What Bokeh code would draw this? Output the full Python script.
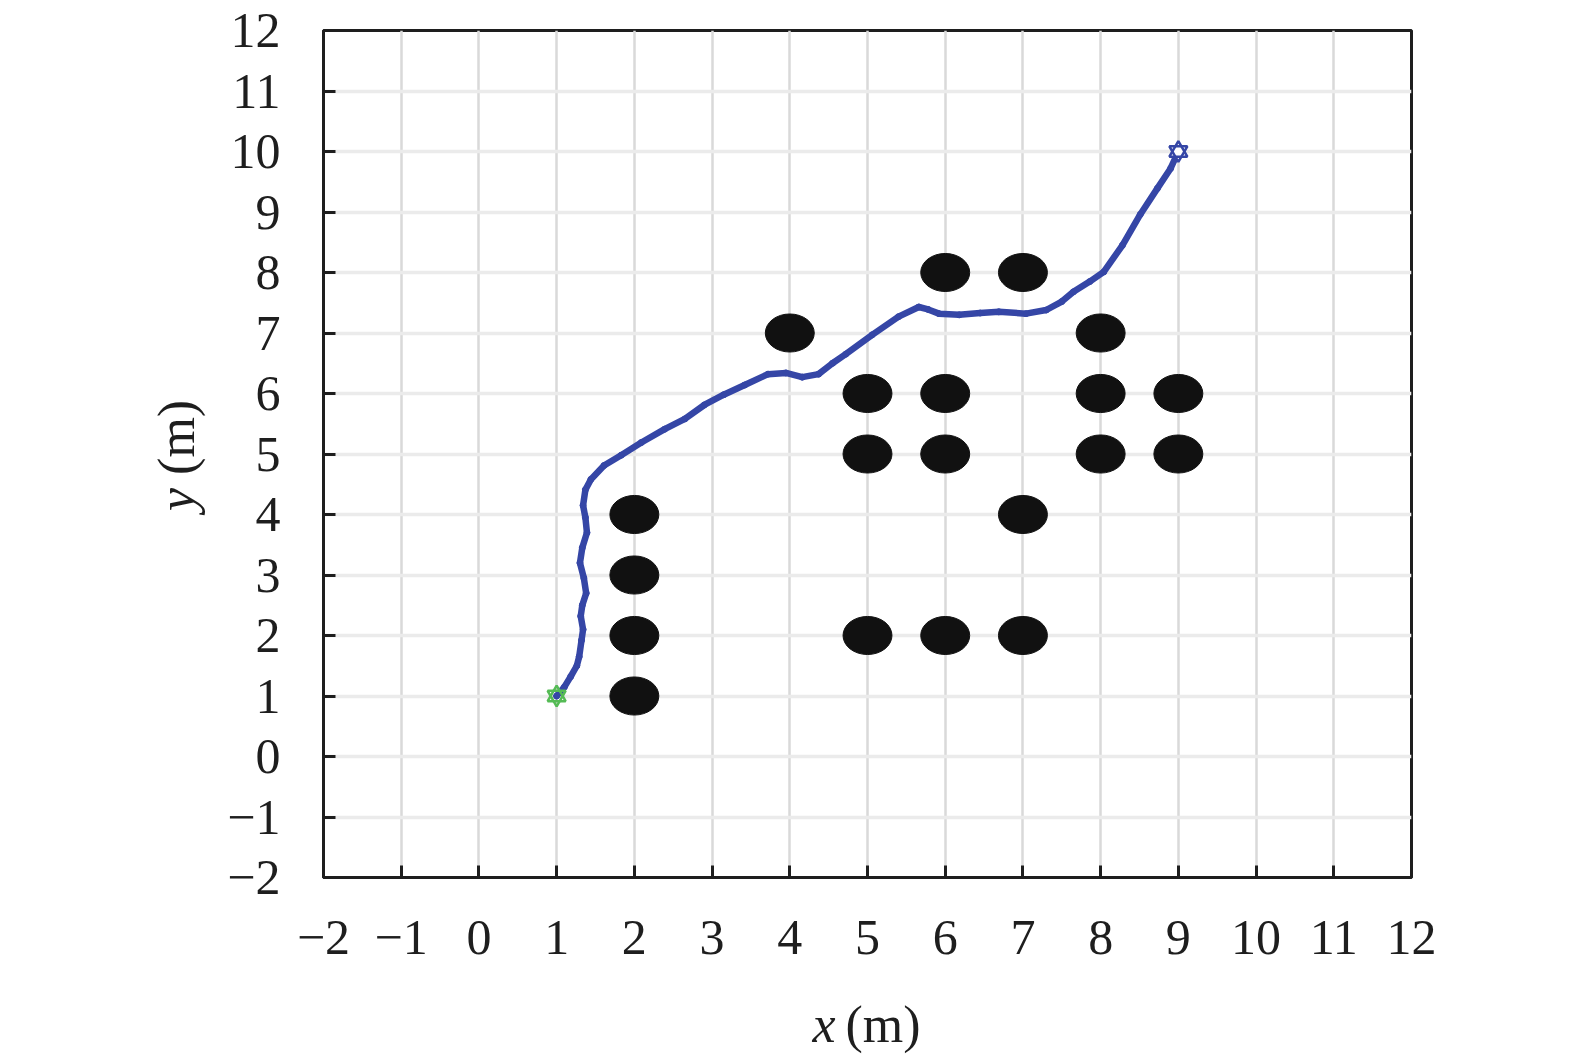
from bokeh.plotting import figure
from bokeh.models import FixedTicker, Range1d
from bokeh.layouts import row, column
from bokeh.core.properties import value
from bokeh.embed import file_html
from bokeh.resources import INLINE

# Obstacles (centres, m)
obs_x = [2, 2, 2, 2, 4, 5, 5, 5, 6, 6, 6, 6, 7, 7, 7, 8, 8, 8, 9, 9]
obs_y = [1, 2, 3, 4, 7, 2, 5, 6, 2, 5, 6, 8, 2, 4, 8, 5, 6, 7, 5, 6]
obs_d = 0.63

# Planned path (m)
path_x = [1.00, 1.10, 1.18, 1.26, 1.29, 1.32, 1.34, 1.31, 1.33, 1.38, 1.35, 1.30,
          1.33, 1.39, 1.37, 1.34, 1.37, 1.44, 1.61, 1.83, 2.09, 2.39, 2.65, 2.90,
          3.15, 3.42, 3.72, 3.95, 4.16, 4.37, 4.55, 4.72, 5.06, 5.40, 5.66, 5.78,
          5.92, 6.18, 6.45, 6.69, 7.04, 7.30, 7.50, 7.65, 7.86, 8.04, 8.28, 8.51,
          8.73, 8.90, 9.00]
path_y = [1.00, 1.15, 1.32, 1.50, 1.65, 1.92, 2.10, 2.32, 2.50, 2.70, 2.95, 3.20,
          3.45, 3.70, 3.95, 4.15, 4.41, 4.58, 4.81, 4.98, 5.19, 5.41, 5.58, 5.81,
          5.98, 6.14, 6.32, 6.34, 6.27, 6.32, 6.50, 6.65, 6.97, 7.27, 7.43, 7.39,
          7.32, 7.30, 7.33, 7.35, 7.32, 7.38, 7.52, 7.68, 7.85, 8.01, 8.45, 8.96,
          9.39, 9.72, 10.00]

start_x, start_y = [1.0], [1.0]
goal_x, goal_y = [9.0], [10.0]

ticks = list(range(-2, 13))
tick_labels = {t: (("\u2212" + str(-t)) if t < 0 else str(t)) for t in ticks}

x_title = ["x", "(m)"]
y_title = ["y", "(m)"]

FONT = "Liberation Serif"
INK = "#1e1e1e"
PATH_C = "#3546a6"
START_C = "#55bb55"

# ---- main plot ----
p = figure(width=1251, height=972, output_backend="svg", toolbar_location=None,
           x_range=Range1d(-2, 12), y_range=Range1d(-2, 12),
           min_border_left=103, min_border_right=60,
           min_border_top=30, min_border_bottom=95)
p.background_fill_color = "white"
p.border_fill_color = "white"
p.outline_line_color = INK
p.outline_line_width = 3

for ax in (p.xaxis[0], p.yaxis[0]):
    ax.ticker = FixedTicker(ticks=ticks)
    ax.major_label_overrides = tick_labels
    ax.axis_line_color = INK
    ax.axis_line_width = 3
    ax.major_tick_in = 12
    ax.major_tick_out = 0
    ax.major_tick_line_color = INK
    ax.major_tick_line_width = 3
    ax.minor_tick_line_color = None
    ax.major_label_text_font = FONT
    ax.major_label_text_font_size = "50px"
    ax.major_label_text_color = INK

p.xaxis.major_label_standoff = 43
p.yaxis.major_label_standoff = 43

p.xgrid.ticker = FixedTicker(ticks=ticks)
p.ygrid.ticker = FixedTicker(ticks=ticks)
p.xgrid.grid_line_color = "#d9d9d9"
p.xgrid.grid_line_width = 2.5
p.ygrid.grid_line_color = "#ebebeb"
p.ygrid.grid_line_width = 3.5

p.ellipse(x=obs_x, y=obs_y, width=obs_d, height=obs_d,
          fill_color="#111111", line_color="#111111")

p.line(path_x, path_y, line_color=PATH_C, line_width=6.5, line_join="round",
       line_cap="round")
p.scatter(path_x, path_y, marker="circle", size=6, fill_color=PATH_C,
          line_color=PATH_C)

# hexagram markers (two overlaid triangles)
for mk in ("triangle", "inverted_triangle"):
    p.scatter(goal_x, goal_y, marker=mk, size=18, fill_color="white",
              line_color=None)
for mk in ("triangle", "inverted_triangle"):
    p.scatter(start_x, start_y, marker=mk, size=18, fill_color=None,
              line_color=START_C, line_width=2.5)
    p.scatter(goal_x, goal_y, marker=mk, size=18, fill_color=None,
              line_color=PATH_C, line_width=2.5)


def blank(w, h):
    f = figure(width=w, height=h, output_backend="svg", toolbar_location=None,
               x_range=Range1d(0, w), y_range=Range1d(0, h),
               x_axis_type=None, y_axis_type=None, min_border=0)
    f.grid.visible = False
    f.outline_line_color = None
    f.background_fill_color = "white"
    f.border_fill_color = "white"
    return f


# ---- y title strip ----
ylab = blank(220, 972)
ylab.text(x=[176], y=[447], text=[y_title[0]], text_font=value(FONT),
          text_font_style="italic", text_font_size="52px", text_align="right",
          text_baseline="alphabetic", angle=1.5708, text_color=INK)
ylab.text(x=[176], y=[462], text=[y_title[1]], text_font=value(FONT),
          text_font_size="52px", text_align="left",
          text_baseline="alphabetic", angle=1.5708, text_color=INK)

# ---- x title strip ----
xlab = blank(1471, 83)
xlab.text(x=[835], y=[31], text=[x_title[0]], text_font=value(FONT),
          text_font_style="italic", text_font_size="52px", text_align="right",
          text_baseline="alphabetic", text_color=INK)
xlab.text(x=[845], y=[31], text=[x_title[1]], text_font=value(FONT),
          text_font_size="52px", text_align="left",
          text_baseline="alphabetic", text_color=INK)

layout = column(row(ylab, p), xlab)
open("out.html", "w").write(file_html(layout, INLINE))
